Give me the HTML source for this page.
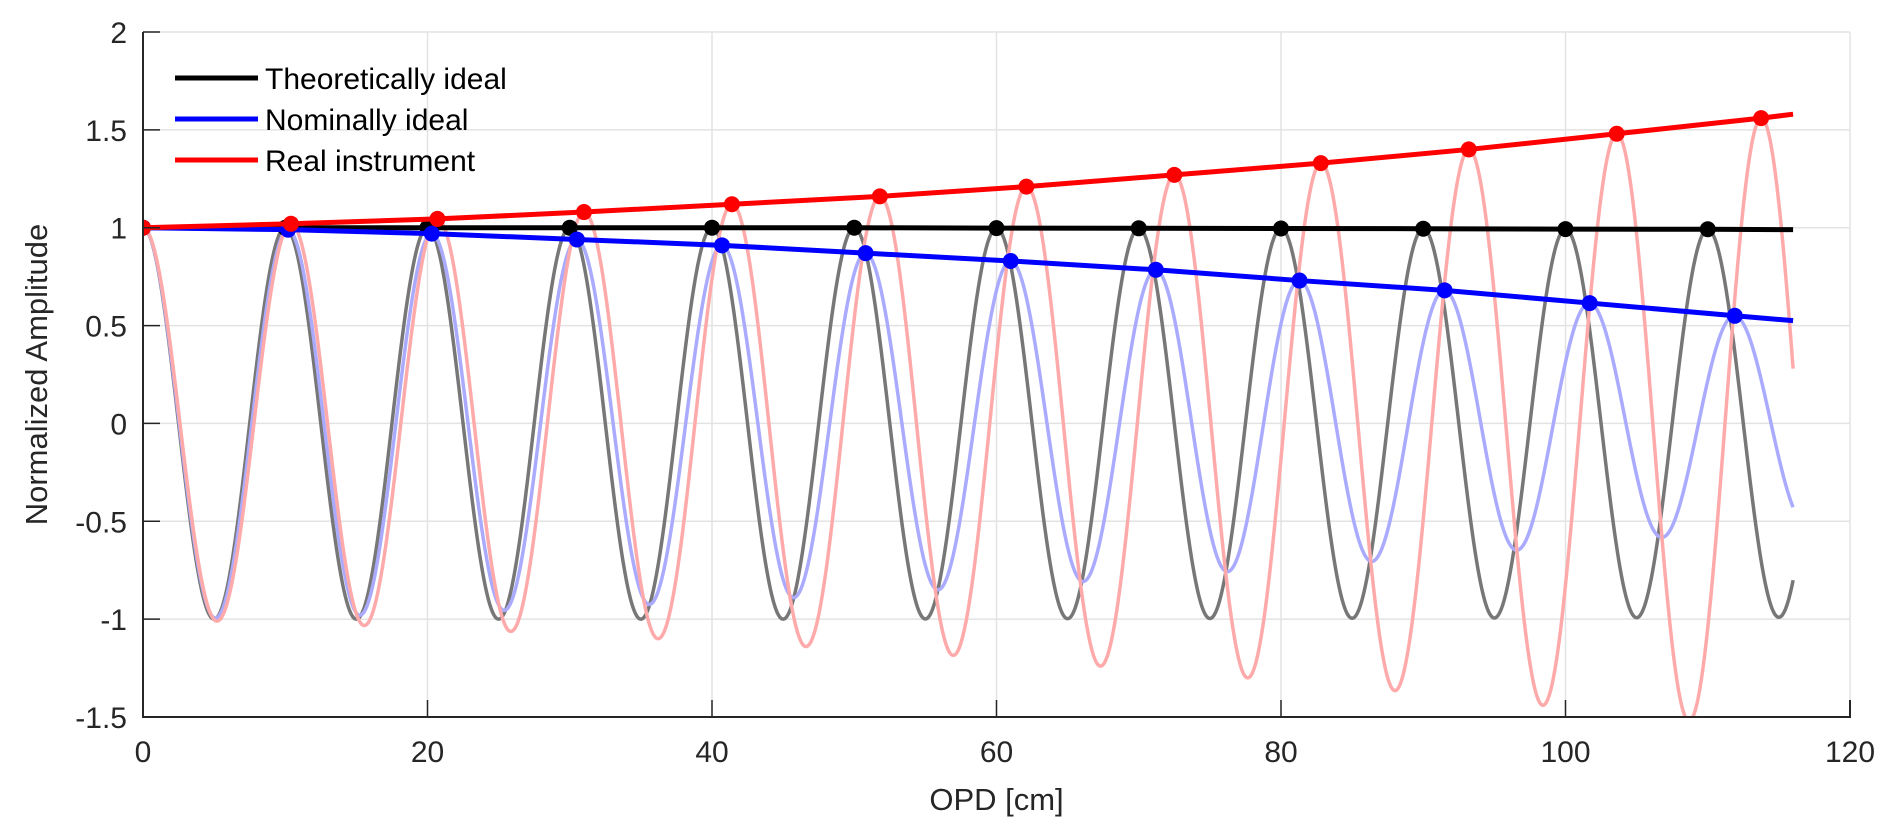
<!DOCTYPE html>
<html><head><meta charset="utf-8"><style>
html,body{margin:0;padding:0;background:#fff;}
svg{display:block;font-family:"Liberation Sans",Arial,sans-serif;}
</style></head><body>
<svg id="chart" width="1892" height="834" viewBox="0 0 1892 834">
<defs><clipPath id="clip"><rect x="143" y="32" width="1707" height="685"/></clipPath></defs>
<g id="grid"></g>
<g id="curves" clip-path="url(#clip)"></g>
<g id="axes"></g>
<g id="legend"></g>
</svg>
<script>
// ---- data ----
const xTicks = [0,20,40,60,80,100,120];
const yTicks = [-1.5,-1,-0.5,0,0.5,1,1.5,2];
const xEnd = 116;
const theoPeaks = [0,10,20,30,40,50,60,70,80,90,100,110];
const theoEnv   = [1,1,1,1,1,1,0.998,0.997,0.996,0.995,0.993,0.992];
const theoEndEnv = 0.99;
const nomPeaks = [0,10.2,20.3,30.5,40.7,50.8,61,71.2,81.3,91.5,101.7,111.9];
const nomEnv   = [1,0.99,0.97,0.94,0.91,0.87,0.83,0.785,0.73,0.68,0.615,0.55];
const nomEndEnv = 0.525;
const realPeaks = [0,10.4,20.7,31.0,41.4,51.8,62.1,72.5,82.8,93.2,103.6,113.75];
const realEnv   = [1,1.02,1.045,1.08,1.12,1.16,1.21,1.27,1.33,1.40,1.48,1.56];
const realEndEnv = 1.58;
const legendLabels = ["Theoretically ideal","Nominally ideal","Real instrument"];

// ---- axes ----
const X0=143,X1=1850,Y0=717,Y1=32;
const xs=v=>X0+(v-0)/(120-0)*(X1-X0);
const ys=v=>Y0-(v+1.5)/(3.5)*(Y0-Y1);
const NS="http://www.w3.org/2000/svg";
function mk(tag,attrs,parent){const e=document.createElementNS(NS,tag);for(const k in attrs)e.setAttribute(k,attrs[k]);parent.appendChild(e);return e;}
const grid=document.getElementById('grid'),axes=document.getElementById('axes'),curves=document.getElementById('curves'),legend=document.getElementById('legend');

xTicks.forEach(t=>{
  const l=mk('line',{x1:xs(t),x2:xs(t),y1:Y1,y2:Y0,stroke:'#e3e3e3','stroke-width':1.5},grid);
  
  
  const tk=mk('line',{x1:xs(t),x2:xs(t),y1:Y0,y2:Y0-17,stroke:'#262626','stroke-width':1.5},axes);
  
  
  const tx=mk('text',{x:xs(t),y:762,'text-anchor':'middle','font-size':30,fill:'#262626'},axes);
  tx.textContent=t;
  
  
});
yTicks.forEach(t=>{
  const l=mk('line',{x1:X0,x2:X1,y1:ys(t),y2:ys(t),stroke:'#e3e3e3','stroke-width':1.5},grid);
  
  
  const tk=mk('line',{x1:X0,x2:X0+17,y1:ys(t),y2:ys(t),stroke:'#262626','stroke-width':1.5},axes);
  
  
  const tx=mk('text',{x:127,y:ys(t)+11,'text-anchor':'end','font-size':30,fill:'#262626'},axes);
  tx.textContent=t;
  
  
});
const ax=mk('path',{d:`M${X0},${Y1}V${Y0}H${X1}V${Y0-17}`,fill:'none',stroke:'#262626','stroke-width':2},axes);


const xt=mk('text',{x:(X0+X1)/2,y:810,'text-anchor':'middle','font-size':31,fill:'#262626'},axes);
xt.textContent='OPD [cm]';


const yt=mk('text',{x:0,y:0,'text-anchor':'middle','font-size':31,fill:'#262626',transform:`translate(47,${(Y0+Y1)/2}) rotate(-90)`},axes);
yt.textContent='Normalized Amplitude';



// ---- series ----
function interp(x,px,pv,endV){
  const n=px.length;
  if(x>=px[n-1]) return pv[n-1]+(endV-pv[n-1])*(x-px[n-1])/(xEnd-px[n-1]);
  for(let i=0;i<n-1;i++) if(x<=px[i+1]) return pv[i]+(pv[i+1]-pv[i])*(x-px[i])/(px[i+1]-px[i]);
}
function phase(x,px){
  const n=px.length;
  if(x>=px[n-1]) return 2*Math.PI*((n-1)+(x-px[n-1])/(px[n-1]-px[n-2]));
  for(let i=0;i<n-1;i++) if(x<=px[i+1]) return 2*Math.PI*(i+(x-px[i])/(px[i+1]-px[i]));
}
function wave(px,pv,endV,color,name){
  let d='';
  for(let x=0;x<=xEnd+1e-9;x+=0.05){
    const y=interp(x,px,pv,endV)*Math.cos(phase(x,px));
    d+=(d?'L':'M')+xs(x).toFixed(2)+','+ys(y).toFixed(2);
  }
  const p=mk('path',{d,fill:'none',stroke:color,'stroke-width':3.5,'stroke-linejoin':'round'},curves);
  
  
}
function envelope(px,pv,endV,color,name){
  const pts=px.map((x,i)=>xs(x)+','+ys(pv[i]));
  pts.push(xs(xEnd)+','+ys(endV));
  const p=mk('polyline',{points:pts.join(' '),fill:'none',stroke:color,'stroke-width':5},curves);
  
  
  px.forEach((x,i)=>{
    const c=mk('circle',{cx:xs(x),cy:ys(pv[i]),r:8,fill:color},curves);
    
    
  });
}
wave(theoPeaks,theoEnv,theoEndEnv,'#777777','theoretical-signal');
wave(nomPeaks,nomEnv,nomEndEnv,'#aaaaff','nominal-signal');
wave(realPeaks,realEnv,realEndEnv,'#ffaaaa','real-signal');
envelope(theoPeaks,theoEnv,theoEndEnv,'#000000','theoretical');
envelope(nomPeaks,nomEnv,nomEndEnv,'#0000ff','nominal');
envelope(realPeaks,realEnv,realEndEnv,'#ff0000','real');

// ---- legend ----
const lc=['#000000','#0000ff','#ff0000'];
legendLabels.forEach((lab,i)=>{
  const y=78+i*41;
  const l=mk('line',{x1:175,x2:258,y1:y,y2:y,stroke:lc[i],'stroke-width':5},legend);
  
  
  const t=mk('text',{x:265,y:y+11,'font-size':30,fill:'#000'},legend);
  t.textContent=lab;
  
  
});
</script>
</body></html>
